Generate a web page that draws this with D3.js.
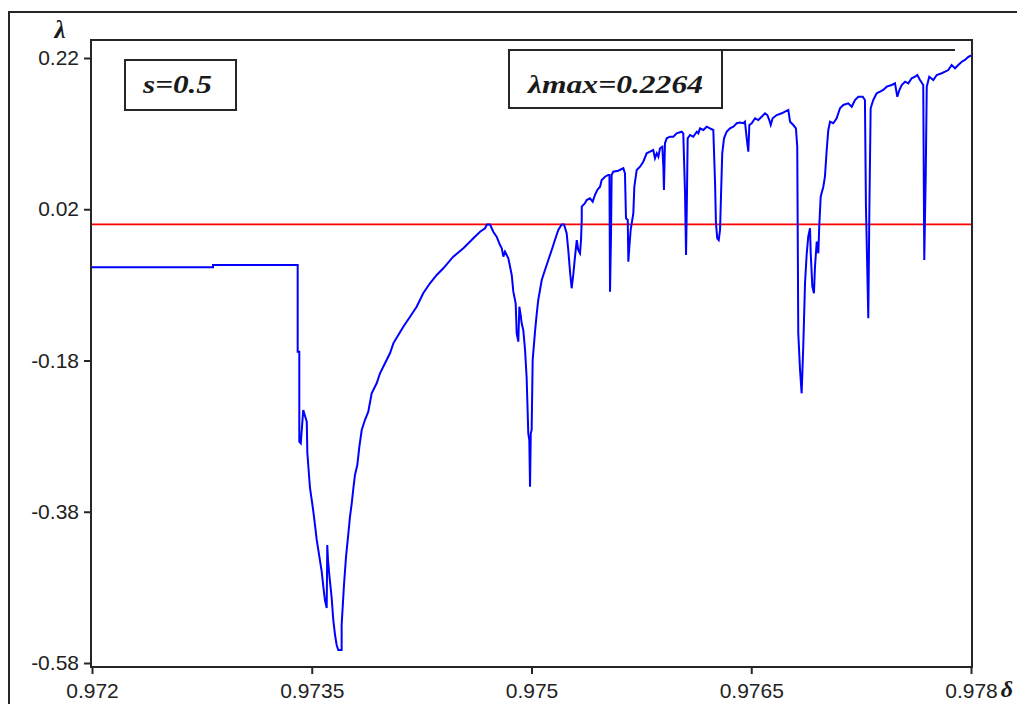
<!DOCTYPE html>
<html>
<head>
<meta charset="utf-8">
<script src="https://cdn.jsdelivr.net/npm/d3@7"></script>
<style>
  html, body { margin: 0; padding: 0; background: #fff; }
  svg { display: block; }
</style>
</head>
<body>
<svg id="chart" width="1017" height="704"></svg>
<script>
// ---- data ----
const deltaVals = [
0.972000,0.972826,0.972826,0.973404,0.973404,0.973415,0.973415,0.973425,0.973442,0.973452,
0.973466,0.973470,0.973488,0.973500,0.973511,0.973522,0.973534,0.973552,0.973568,0.973579,
0.973590,0.973602,0.973606,0.973611,0.973620,0.973636,0.973647,0.973659,0.973670,0.973681,
0.973704,0.973704,0.973720,0.973734,0.973749,0.973761,0.973773,0.973784,0.973795,0.973811,
0.973825,0.973841,0.973863,0.973886,0.973909,0.973943,0.973966,0.974000,0.974034,0.974057,
0.974091,0.974125,0.974171,0.974216,0.974261,0.974307,0.974353,0.974398,0.974466,0.974535,
0.974603,0.974649,0.974683,0.974696,0.974717,0.974739,0.974762,0.974785,0.974797,0.974808,
0.974819,0.974842,0.974865,0.974876,0.974892,0.974899,0.974910,0.974917,0.974926,0.974933,
0.974944,0.974956,0.974967,0.974978,0.974985,0.974990,0.974995,0.975001,0.975008,0.975024,
0.975036,0.975046,0.975058,0.975070,0.975092,0.975115,0.975138,0.975160,0.975183,0.975206,
0.975222,0.975240,0.975251,0.975263,0.975274,0.975285,0.975297,0.975309,0.975319,0.975331,
0.975338,0.975343,0.975343,0.975365,0.975377,0.975399,0.975418,0.975433,0.975449,0.975468,
0.975479,0.975502,0.975524,0.975532,0.975536,0.975543,0.975547,0.975558,0.975592,0.975627,
0.975638,0.975645,0.975657,0.975661,0.975668,0.975677,0.975684,0.975695,0.975702,0.975718,
0.975741,0.975763,0.975786,0.975809,0.975831,0.975843,0.975855,0.975866,0.975877,0.975893,
0.975900,0.975904,0.975911,0.975923,0.975945,0.975968,0.975991,0.976025,0.976036,0.976048,
0.976055,0.976061,0.976066,0.976082,0.976104,0.976128,0.976139,0.976150,0.976173,0.976196,
0.976218,0.976241,0.976253,0.976259,0.976268,0.976278,0.976287,0.976294,0.976302,0.976314,
0.976332,0.976355,0.976378,0.976401,0.976423,0.976446,0.976457,0.976469,0.976480,0.976487,
0.976503,0.976526,0.976548,0.976571,0.976594,0.976610,0.976623,0.976633,0.976646,0.976674,
0.976708,0.976730,0.976753,0.976765,0.976787,0.976805,0.976814,0.976821,0.976833,0.976844,
0.976855,0.976867,0.976878,0.976889,0.976901,0.976906,0.976917,0.976928,0.976935,0.976947,
0.976958,0.976964,0.976974,0.976992,0.977003,0.977015,0.977026,0.977038,0.977060,0.977083,
0.977106,0.977128,0.977162,0.977186,0.977208,0.977231,0.977261,0.977276,0.977283,0.977299,
0.977306,0.977315,0.977333,0.977356,0.977379,0.977401,0.977425,0.977459,0.977481,0.977497,
0.977511,0.977527,0.977550,0.977572,0.977595,0.977618,0.977633,0.977652,0.977674,0.977681,
0.977691,0.977698,0.977715,0.977743,0.977766,0.977800,0.977823,0.977845,0.977868,0.977891,
0.977913,0.977937,0.977959,0.977980,0.978000
];
const lambdaVals = [
-0.0568,-0.0568,-0.0537,-0.0537,-0.1684,-0.1684,-0.2874,-0.2895,-0.2455,-0.2521,
-0.2609,-0.3023,-0.3486,-0.3645,-0.3799,-0.3975,-0.4173,-0.4394,-0.4593,-0.4791,
-0.4967,-0.5073,-0.4240,-0.4438,-0.4636,-0.4940,-0.5231,-0.5430,-0.5562,-0.5628,
-0.5628,-0.5297,-0.4769,-0.4394,-0.4107,-0.3865,-0.3688,-0.3490,-0.3314,-0.3182,
-0.2940,-0.2719,-0.2587,-0.2477,-0.2234,-0.2101,-0.1969,-0.1837,-0.1705,-0.1573,
-0.1463,-0.1353,-0.1221,-0.1089,-0.0911,-0.0779,-0.0669,-0.0581,-0.0427,-0.0316,
-0.0184,-0.0097,-0.0052,-0.0002,-0.0002,-0.0097,-0.0163,-0.0273,-0.0316,-0.0427,
-0.0361,-0.0449,-0.0669,-0.0890,-0.1044,-0.1440,-0.1551,-0.1089,-0.1198,-0.1308,
-0.1397,-0.1661,-0.2035,-0.2763,-0.2851,-0.3469,-0.2763,-0.2719,-0.1793,-0.1419,
-0.1176,-0.1000,-0.0868,-0.0736,-0.0603,-0.0471,-0.0339,-0.0207,-0.0074,-0.0002,
-0.0002,-0.0118,-0.0339,-0.0626,-0.0845,-0.0669,-0.0427,-0.0207,-0.0339,-0.0383,
-0.0207,0.0058,0.0234,0.0279,0.0322,0.0345,0.0300,0.0388,0.0455,0.0498,
0.0587,0.0630,0.0653,0.0653,-0.0890,-0.0114,0.0653,0.0697,0.0710,0.0742,
0.0675,0.0080,0.0058,-0.0494,-0.0295,-0.0074,0.0014,0.0146,0.0498,0.0719,
0.0763,0.0829,0.0940,0.0961,0.0983,0.0874,0.0940,0.0895,0.1006,0.1027,
0.0763,0.0455,0.1072,0.1138,0.1159,0.1159,0.1204,0.1225,0.1204,0.0411,
-0.0405,0.0366,0.1138,0.1182,0.1159,0.1225,0.1204,0.1270,0.1248,0.1292,
0.1270,0.1248,0.0543,0.0014,-0.0184,-0.0207,-0.0074,0.0411,0.0940,0.1138,
0.1225,0.1270,0.1292,0.1337,0.1347,0.1337,0.1358,0.1138,0.0961,0.1314,
0.1337,0.1403,0.1380,0.1424,0.1469,0.1446,0.1380,0.1314,0.1403,0.1446,
0.1469,0.1490,0.1512,0.1358,0.1314,0.1270,0.1027,-0.1440,-0.1926,-0.2234,
-0.1618,-0.0779,-0.0405,-0.0163,-0.0052,-0.0383,-0.0824,-0.0911,-0.0560,-0.0229,
-0.0383,-0.0031,0.0366,0.0498,0.0630,0.0983,0.1248,0.1358,0.1337,0.1403,
0.1535,0.1579,0.1601,0.1556,0.1645,0.1688,0.1688,0.1645,0.0234,-0.1242,
0.0146,0.1535,0.1645,0.1733,0.1754,0.1777,0.1821,0.1843,0.1865,0.1688,
0.1777,0.1843,0.1887,0.1865,0.1932,0.1953,0.1975,0.1909,0.1843,-0.0471,
0.0653,0.1821,0.1953,0.1909,0.1975,0.1998,0.2019,0.2041,0.2107,0.2064,
0.2107,0.2151,0.2174,0.2213,0.2233
];
const xTickValues = [0.972, 0.9735, 0.975, 0.9765, 0.978];
const xTickLabels = ["0.972", "0.9735", "0.975", "0.9765", "0.978"];
const yTickValues = [0.22, 0.02, -0.18, -0.38, -0.58];
const yTickLabels = ["0.22", "0.02", "-0.18", "-0.38", "-0.58"];
const zeroLevel = [0];
const paramLabel = "s=0.5";
const maxLabel = "λmax=0.2264";
const xAxisTitle = "δ";
const yAxisTitle = "λ";

// ---- drawing ----
const svg = d3.select("#chart");
const frameColor = "#262626";
const plotL = 91, plotR = 972, plotT = 40, plotB = 667;

const x = d3.scaleLinear().domain([0.972, 0.978]).range([92, 971]);
const y = d3.scaleLinear().domain([-0.58, 0.22]).range([663, 58]);

svg.append("rect").attr("width", 1017).attr("height", 704).attr("fill", "#fff");

// outer frame
svg.append("path")
  .attr("d", `M9,710 L9,12 L1030,12`)
  .attr("fill", "none").attr("stroke", frameColor).attr("stroke-width", 2);

// plot frame
svg.append("rect")
  .attr("x", plotL).attr("y", plotT)
  .attr("width", plotR - plotL).attr("height", plotB - plotT)
  .attr("fill", "none").attr("stroke", frameColor).attr("stroke-width", 2);

const fmtX = d => xTickLabels[xTickValues.indexOf(d)];
const fmtY = d => yTickLabels[yTickValues.indexOf(d)];

const gx = svg.append("g").attr("transform", `translate(0,${plotB})`)
  .call(d3.axisBottom(x).tickValues(xTickValues).tickFormat(fmtX).tickSize(7).tickPadding(9));
const gy = svg.append("g").attr("transform", `translate(${plotL},0)`)
  .call(d3.axisLeft(y).tickValues(yTickValues).tickFormat(fmtY).tickSize(7).tickPadding(5));

[gx, gy].forEach(g => {
  g.select(".domain").remove();
  g.selectAll(".tick line").attr("stroke", frameColor).attr("stroke-width", 2);
  g.selectAll(".tick text")
    .attr("fill", "#222")
    .style("font-family", "'Liberation Sans', Arial, sans-serif")
    .style("font-size", "21px");
});

// zero reference line
svg.selectAll(".zero").data(zeroLevel).enter().append("line")
  .attr("class", "zero")
  .attr("x1", plotL + 1).attr("x2", plotR - 1)
  .attr("y1", d => y(d)).attr("y2", d => y(d))
  .attr("stroke", "#ff0000").attr("stroke-width", 1.6);

// main curve
const pts = deltaVals.map((d, i) => [d, lambdaVals[i]]);
svg.append("path")
  .datum(pts)
  .attr("fill", "none")
  .attr("stroke", "#0000ff")
  .attr("stroke-width", 2)
  .attr("stroke-linejoin", "miter")
  .attr("d", d3.line().x(d => x(d[0])).y(d => y(d[1])));

// axis titles
svg.append("text").attr("x", 60).attr("y", 38).attr("text-anchor", "middle")
  .style("font-family", "'Liberation Serif', 'Times New Roman', serif")
  .style("font-weight", "bold").style("font-style", "italic").style("font-size", "25px")
  .attr("fill", "#1a1a1a").text(yAxisTitle);
svg.append("text").attr("x", 1007).attr("y", 697).attr("text-anchor", "middle")
  .style("font-family", "'Liberation Serif', 'Times New Roman', serif")
  .style("font-weight", "bold").style("font-style", "italic").style("font-size", "24px")
  .attr("fill", "#1a1a1a").text(xAxisTitle);

// annotation boxes
svg.append("rect").attr("x", 125).attr("y", 60).attr("width", 111).attr("height", 50)
  .attr("fill", "#fff").attr("stroke", frameColor).attr("stroke-width", 2);
svg.append("text").attr("x", 143).attr("y", 93)
  .attr("textLength", 69).attr("lengthAdjust", "spacingAndGlyphs")
  .style("font-family", "'Liberation Serif', 'Times New Roman', serif")
  .style("font-weight", "bold").style("font-style", "italic").style("font-size", "25px")
  .attr("fill", "#1a1a1a").text(paramLabel);

svg.append("path").attr("d", "M509,50 L955,50")
  .attr("stroke", frameColor).attr("stroke-width", 2).attr("fill", "none");
svg.append("rect").attr("x", 509).attr("y", 50).attr("width", 213).attr("height", 58)
  .attr("fill", "#fff").attr("stroke", frameColor).attr("stroke-width", 2);
svg.append("text").attr("x", 528).attr("y", 93)
  .attr("textLength", 175).attr("lengthAdjust", "spacingAndGlyphs")
  .style("font-family", "'Liberation Serif', 'Times New Roman', serif")
  .style("font-weight", "bold").style("font-style", "italic").style("font-size", "25px")
  .attr("fill", "#1a1a1a").text(maxLabel);
</script>
</body>
</html>
